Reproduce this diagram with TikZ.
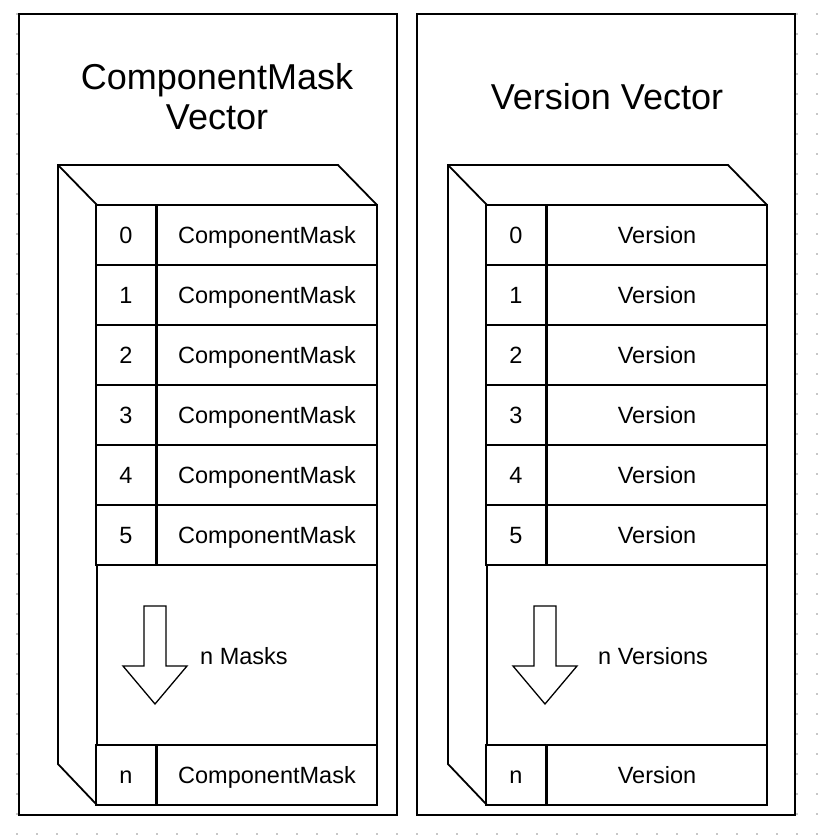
\documentclass[tikz,border=0pt]{standalone}
\usepackage{fontspec}
\setmainfont{Liberation Sans}
\usepackage{tikz}

\tikzset{
  panel/.style={draw, line width=1.8pt, fill=white},
  idxcell/.style={draw, line width=1.8pt, minimum width=60pt, minimum height=60pt, inner sep=0pt,
    text height=16.8pt, text depth=0pt, font=\fontsize{23.5}{26}\selectfont},
  datacell/.style={draw, line width=1.8pt, minimum width=220pt, minimum height=60pt, inner sep=0pt,
    text height=16.8pt, text depth=0pt, font=\fontsize{23.5}{26}\selectfont},
  gapcell/.style={draw, line width=1.8pt, minimum width=280pt, minimum height=180pt, inner sep=0pt},
  titletext/.style={font=\fontsize{36}{40}\selectfont, align=center},
  plaintext/.style={font=\fontsize{23.5}{26}\selectfont, inner sep=0pt, text height=16.8pt, text depth=0pt},
  bigarrow/.style={draw, line width=1.3pt, fill=white},
}

\begin{document}
\begin{tikzpicture}[x=1pt,y=-1pt]
    \useasboundingbox (0,0) rectangle (818,836);

    % dotted grid
    \foreach \i in {0,...,40} \foreach \j in {0,...,41}
        \fill[black!22] (16.3+20*\i,13.3+20*\j) rectangle ++(1.4,1.4);

    % left : component masks
    \draw[panel] (19,14) rectangle (397,815);
    \node[titletext] (masktitle) at (217,97) {ComponentMask\\Vector};
    \draw[panel] (58,165) -- (338,165) -- (377,205) -- (377,805) -- (97,805) -- (58,764) -- cycle;
    \draw[line width=1.8pt] (58,165) -- (97,205) -- (377,205);
    \foreach \k in {0,...,5} {
        \node[idxcell] (maskidx\k) at (126,235+60*\k) {\k};
        \node[datacell] (mask\k) at (267,235+60*\k) {ComponentMask};
    }
    \node[gapcell] (maskgap) at (237,655) {};
    \draw[bigarrow] (144,606) -- (166,606) -- (166,666) -- (187,666) -- (155,704) -- (123,666) -- (144,666) -- cycle;
    \node[plaintext, anchor=west] (maskcount) at (200,656) {n Masks};
    \node[idxcell] (maskidxn) at (126,775) {n};
    \node[datacell] (maskn) at (267,775) {ComponentMask};

    % right : versions
    \draw[panel] (417,14) rectangle (795,815);
    \node[titletext] (vertitle) at (607,97) {Version Vector};
    \draw[panel] (448,165) -- (728,165) -- (767,205) -- (767,805) -- (487,805) -- (448,764) -- cycle;
    \draw[line width=1.8pt] (448,165) -- (487,205) -- (767,205);
    \foreach \k in {0,...,5} {
        \node[idxcell] (veridx\k) at (516,235+60*\k) {\k};
        \node[datacell] (ver\k) at (657,235+60*\k) {Version};
    }
    \node[gapcell] (vergap) at (627,655) {};
    \draw[bigarrow] (534,606) -- (556,606) -- (556,666) -- (577,666) -- (545,704) -- (513,666) -- (534,666) -- cycle;
    \node[plaintext, anchor=west] (vercount) at (598,656) {n Versions};
    \node[idxcell] (veridxn) at (516,775) {n};
    \node[datacell] (vern) at (657,775) {Version};
\end{tikzpicture}
\end{document}
